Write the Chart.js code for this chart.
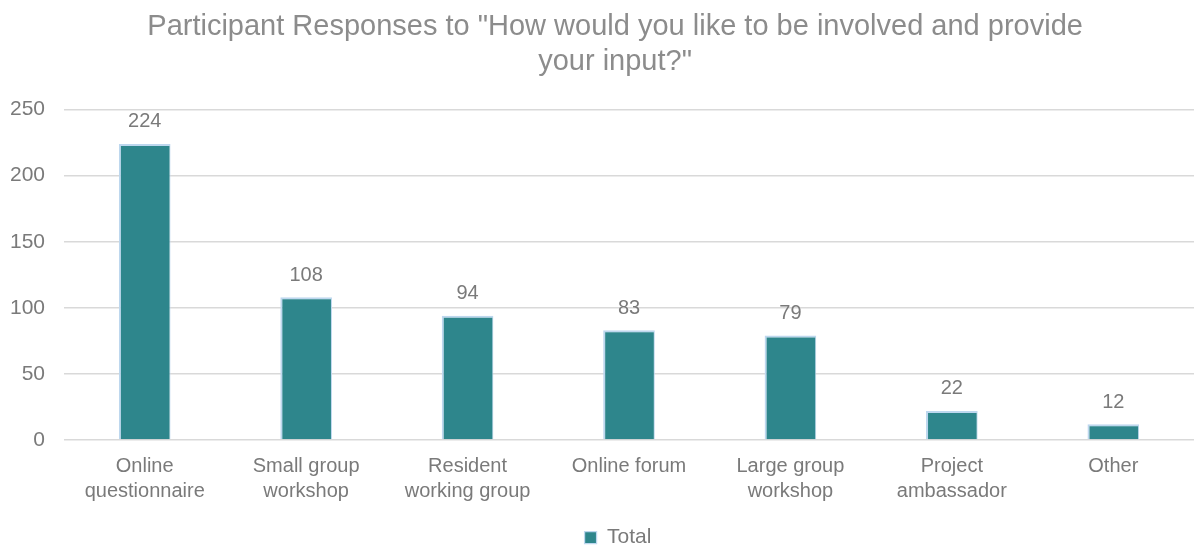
<!DOCTYPE html>
<html>
<head>
<meta charset="utf-8">
<script src="https://cdn.jsdelivr.net/npm/chart.js@4"></script>
<style>
  html, body { margin: 0; padding: 0; background: #fff; }
  #wrap { width: 1194px; height: 546px; }
</style>
</head>
<body>
<div id="wrap"><canvas id="chart"></canvas></div>
<script>
const categories = [
  ['Online', 'questionnaire'],
  ['Small group', 'workshop'],
  ['Resident', 'working group'],
  'Online forum',
  ['Large group', 'workshop'],
  ['Project', 'ambassador'],
  'Other'
];
const totals = [224, 108, 94, 83, 79, 22, 12];
const yTicks = [0, 50, 100, 150, 200, 250];

const FONT = '"Liberation Sans", Arial, sans-serif';
const TEXT = '#7a7a7a';
// nudge: the original title is centred a little right of the canvas middle
const PAD = '\u00a0\u00a0\u00a0';

// draws the value above each bar
const valueLabels = {
  id: 'valueLabels',
  afterDatasetsDraw(chart) {
    const ctx = chart.ctx;
    ctx.save();
    ctx.font = '20px ' + FONT;
    ctx.fillStyle = TEXT;
    ctx.textAlign = 'center';
    ctx.textBaseline = 'bottom';
    chart.getDatasetMeta(0).data.forEach((bar, i) => {
      ctx.fillText(totals[i], bar.x, bar.y - 12);
    });
    ctx.restore();
  }
};

// legend sits slightly right of centre too
const legendShift = {
  id: 'legendShift',
  afterLayout(chart) {
    chart.legend.left += 30;
  }
};

new Chart(document.getElementById('chart'), {
  type: 'bar',
  data: {
    labels: categories,
    datasets: [{
      label: 'Total',
      data: totals,
      backgroundColor: '#2e868c',
      borderColor: '#bdd7ee',
      borderWidth: { left: 2, top: 2, right: 1, bottom: 0 },
      barPercentage: 0.64,
      categoryPercentage: 0.5
    }]
  },
  options: {
    responsive: true,
    maintainAspectRatio: false,
    animation: false,
    layout: { padding: { left: 0, right: -12, top: 0, bottom: -12 } },
    plugins: {
      title: {
        display: true,
        text: [PAD + 'Participant Responses to "How would you like to be involved and provide', PAD + 'your input?"'],
        color: '#8c8c8c',
        font: { family: FONT, size: 29, weight: 'normal', lineHeight: 1.2 },
        padding: { top: 10, bottom: 30 }
      },
      legend: {
        position: 'bottom',
        labels: {
          color: TEXT,
          font: { family: FONT, size: 21 },
          boxWidth: 12,
          boxHeight: 12,
          padding: 0
        }
      },
      tooltip: { enabled: false }
    },
    scales: {
      x: {
        grid: { display: false },
        border: { display: false },
        afterFit(axis) { axis.height = 87; },
        ticks: {
          color: TEXT,
          font: { family: FONT, size: 20, lineHeight: 1.25 },
          maxRotation: 0,
          autoSkip: false,
          padding: 6
        }
      },
      y: {
        min: 0,
        max: 250,
        afterBuildTicks(axis) { axis.ticks = yTicks.map(v => ({ value: v })); },
        afterFit(axis) { axis.width = 64; },
        grid: { color: '#d9d9d9', lineWidth: 1.5, drawTicks: false },
        border: { display: false },
        ticks: {
          color: TEXT,
          font: { family: FONT, size: 21 },
          padding: 19
        }
      }
    }
  },
  plugins: [valueLabels, legendShift]
});
</script>
</body>
</html>
